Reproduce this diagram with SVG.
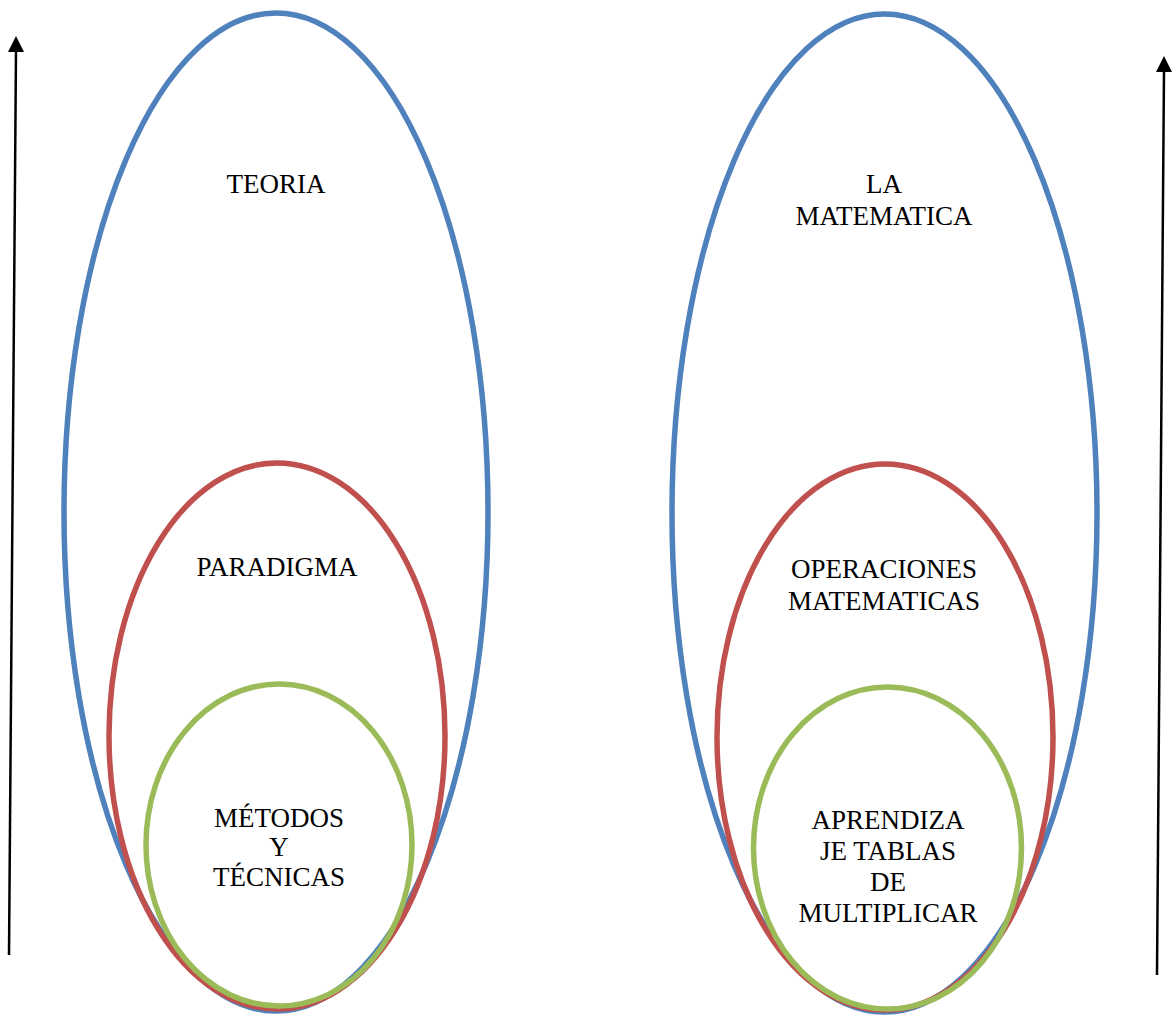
<svg xmlns="http://www.w3.org/2000/svg" width="1172" height="1017" viewBox="0 0 1172 1017">
  <style>
    .ring { fill: none; stroke-width: 5.5; }
    .outer { stroke: #4F81BD; }
    .middle { stroke: #C0504D; }
    .inner { stroke: #9BBB59; }
    .label { font-family: "Liberation Serif", "Times New Roman", serif; font-size: 27px; fill: #000; text-anchor: middle; }
    .axis { stroke: #000; stroke-width: 2.5; fill: none; }
  </style>
  <rect width="1172" height="1017" fill="#fff"/>

  <g id="connectors">
    <line class="axis" x1="9" y1="955" x2="16" y2="50"/>
    <path d="M8,52 L16,36 L24,52 Z" fill="#000"/>
    <line class="axis" x1="1157" y1="975" x2="1164" y2="70"/>
    <path d="M1156,72 L1164,56 L1172,72 Z" fill="#000"/>
  </g>

  <!-- left nesting: theory > paradigm > methods -->
  <g id="teoria">
    <ellipse class="ring outer" cx="276" cy="512" rx="212" ry="499"/>
    <text class="label" x="276" y="193">TEORIA</text>
  </g>
  <g id="paradigma">
    <ellipse class="ring middle" cx="277" cy="736" rx="168" ry="273"/>
    <text class="label" x="277" y="576">PARADIGMA</text>
  </g>
  <g id="metodos">
    <ellipse class="ring inner" cx="279" cy="845" rx="133" ry="161"/>
    <text class="label" x="279" y="827">MÉTODOS</text>
    <text class="label" x="279" y="856">Y</text>
    <text class="label" x="279" y="886">TÉCNICAS</text>
  </g>

  <!-- right nesting: mathematics > operations > multiplication tables -->
  <g id="matematica">
    <ellipse class="ring outer" cx="884.5" cy="513" rx="212.5" ry="499"/>
    <text class="label" x="884" y="193">LA</text>
    <text class="label" x="884" y="225">MATEMATICA</text>
  </g>
  <g id="operaciones">
    <ellipse class="ring middle" cx="885" cy="737" rx="168" ry="273"/>
    <text class="label" x="884" y="578">OPERACIONES</text>
    <text class="label" x="884" y="610">MATEMATICAS</text>
  </g>
  <g id="tablas">
    <ellipse class="ring inner" cx="887.5" cy="848" rx="134" ry="161"/>
    <text class="label" x="888" y="829">APRENDIZA</text>
    <text class="label" x="888" y="860">JE TABLAS</text>
    <text class="label" x="888" y="891">DE</text>
    <text class="label" x="888" y="922">MULTIPLICAR</text>
  </g>
</svg>
